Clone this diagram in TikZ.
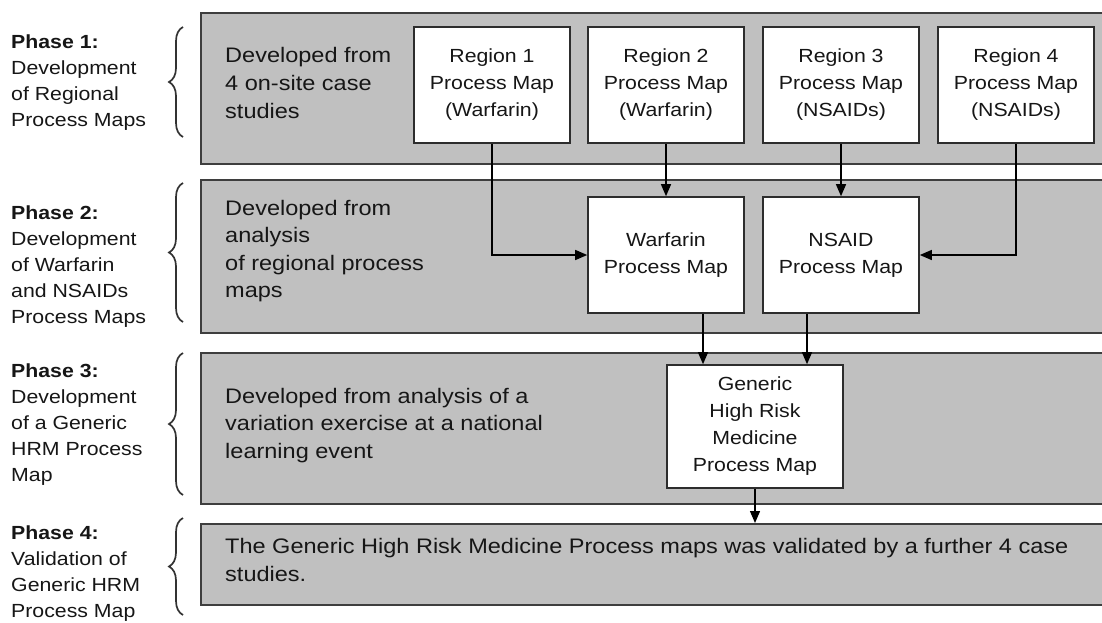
\documentclass[tikz,border=0pt]{standalone}
\usepackage{fontspec}
\setmainfont{Liberation Sans}[FakeStretch=1.12]
\usetikzlibrary{arrows.meta,decorations.pathreplacing,calc}
\definecolor{bandfill}{RGB}{192,192,192}
\definecolor{banddraw}{RGB}{62,62,62}
\definecolor{boxdraw}{RGB}{45,45,45}
\definecolor{txt}{RGB}{22,22,22}
\definecolor{bracecol}{RGB}{50,50,50}
\begin{document}
\begin{tikzpicture}[x=1pt,y=-1pt,
  band/.style={draw=banddraw, fill=bandfill, line width=1.6pt, anchor=north west, inner sep=0pt, minimum width=910pt},
  pbox/.style={draw=boxdraw, fill=white, line width=1.6pt, align=center, inner sep=0pt, text=txt, font=\fontsize{19}{27}\selectfont},
  btext/.style={anchor=base west, align=left, inner sep=0pt, text=txt, font=\fontsize{21}{27.5}\selectfont},
  ptext/.style={anchor=base west, align=left, inner sep=0pt, text=txt, font=\fontsize{19}{26}\selectfont},
  conn/.style={draw=black, line width=1.3pt, -{Triangle[length=12pt,width=10pt]}},
  pbrace/.style={draw=bracecol, line width=1.7pt, decorate, decoration={brace, amplitude=14pt}}
]
\useasboundingbox (0,0) rectangle (1102,623);

% bands
\node[band, minimum height=151pt] (b1) at (200,12) {};
\node[band, minimum height=153pt] (b2) at (200,179) {};
\node[band, minimum height=151pt] (b3) at (200,352) {};
\node[band, minimum height=81pt] (b4) at (200,523) {};

% band texts (anchor = baseline of last line)
\node[btext] (t1) at (225,118) {Developed from\\4 on-site case\\studies};
\node[btext] (t2) at (225,297.5) {Developed from\\analysis\\of regional process\\maps};
\node[btext] (t3) at (225,458) {Developed from analysis of a\\variation exercise at a national\\learning event};
\node[btext] (t4) at (225,581) {The Generic High Risk Medicine Process maps was validated by a further 4 case\\studies.};

% phase labels (anchor = baseline of last line)
\node[ptext] (p1) at (11,127) {\textbf{Phase 1:}\\Development\\of Regional\\Process Maps};
\node[ptext] (p2) at (11,323) {\textbf{Phase 2:}\\Development\\of Warfarin\\and NSAIDs\\Process Maps};
\node[ptext] (p3) at (11,481) {\textbf{Phase 3:}\\Development\\of a Generic\\HRM Process\\Map};
\node[ptext] (p4) at (11,617) {\textbf{Phase 4:}\\Validation of\\Generic HRM\\Process Map};

% braces
\draw[pbrace] (183,137) -- (183,27);
\draw[pbrace] (183,322) -- (183,183);
\draw[pbrace] (183,495) -- (183,353);
\draw[pbrace] (183,615) -- (183,518);

% process map boxes
\node[pbox, minimum width=156pt, minimum height=116pt] (r1) at (492,85) {Region 1\\Process Map\\(Warfarin)};
\node[pbox, minimum width=156pt, minimum height=116pt] (r2) at (666,85) {Region 2\\Process Map\\(Warfarin)};
\node[pbox, minimum width=156pt, minimum height=116pt] (r3) at (841,85) {Region 3\\Process Map\\(NSAIDs)};
\node[pbox, minimum width=156pt, minimum height=116pt] (r4) at (1016,85) {Region 4\\Process Map\\(NSAIDs)};
\node[pbox, minimum width=156pt, minimum height=116pt] (war) at (666,255) {Warfarin\\Process Map};
\node[pbox, minimum width=156pt, minimum height=116pt] (nsaid) at (841,255) {NSAID\\Process Map};
\node[pbox, minimum width=176pt, minimum height=123pt] (gen) at (755,426.5) {Generic\\High Risk\\Medicine\\Process Map};

% connectors
\draw[conn] (r1.south) |- (war.west);
\draw[conn] (r2.south) -- (war.north);
\draw[conn] (r3.south) -- (nsaid.north);
\draw[conn] (r4.south) |- (nsaid.east);
\coordinate (g1) at ([xshift=-52pt]gen.north);
\coordinate (g2) at ([xshift=52pt]gen.north);
\draw[conn] (war.south -| g1) -- (g1);
\draw[conn] (nsaid.south -| g2) -- (g2);
\draw[conn] (gen.south) -- (gen.south |- b4.north);
\end{tikzpicture}
\end{document}
